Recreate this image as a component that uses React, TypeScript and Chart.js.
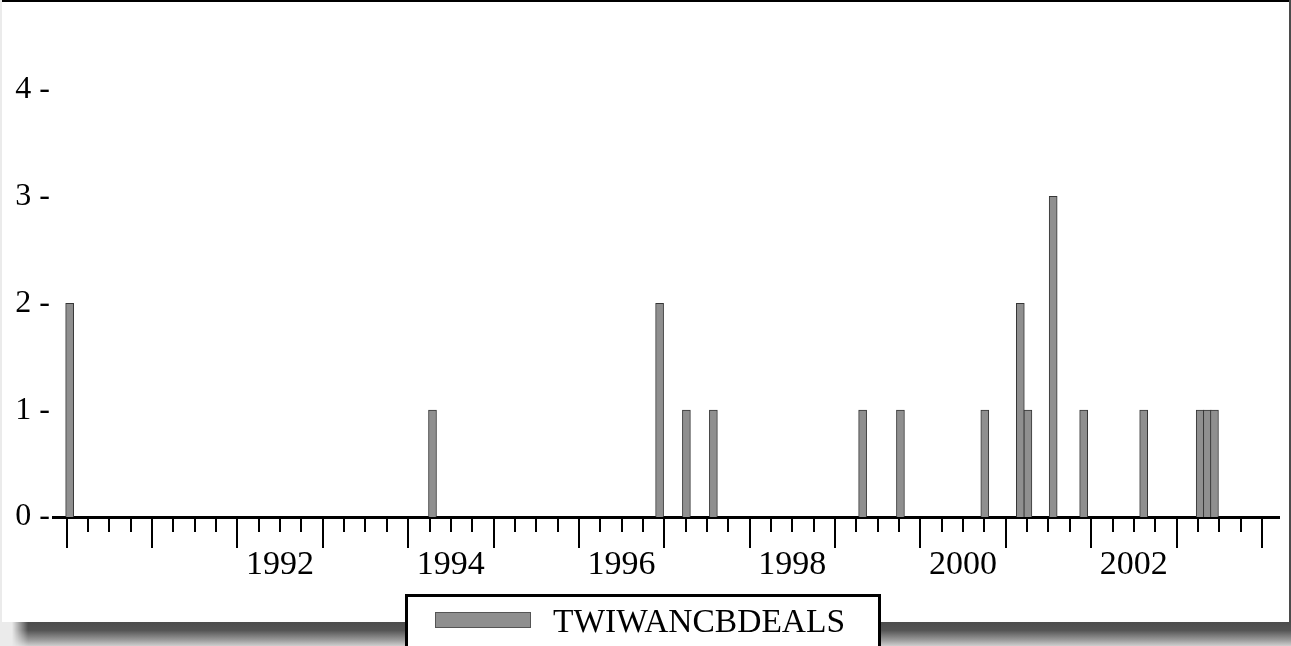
import React, { useEffect, useRef } from "react";
import { Chart, registerables } from "chart.js";

Chart.register(...registerables);

// ---- data ----
const seriesLabel = "TWIWANCBDEALS";
const dealDates = [
  1990.035, 1994.285, 1996.945, 1997.259, 1997.575, 1999.323, 1999.766,
  2000.754, 2001.17, 2001.259, 2001.555, 2001.912, 2002.615, 2003.277,
  2003.361, 2003.444,
];
const dealCounts = [2, 1, 2, 1, 1, 1, 1, 1, 2, 1, 3, 1, 1, 1, 1, 1];
const yTickValues = [0, 1, 2, 3, 4];
const yearLabels = [1992, 1994, 1996, 1998, 2000, 2002];
const axisStartYear = 1990;
const axisEndYear = 2004;

const SERIF = "'Liberation Serif', 'Times New Roman', serif";

const quarterTicks = {
  id: "quarterTicks",
  afterDraw(chart: any) {
    const xs = chart.scales.x;
    const ctx = chart.ctx;
    const y0 = chart.chartArea.bottom;
    ctx.save();
    ctx.strokeStyle = "#000";
    ctx.lineWidth = 2;
    for (let q = axisStartYear * 4; q <= axisEndYear * 4; q++) {
      const px = Math.round(xs.getPixelForValue(q / 4));
      const len = q % 4 === 0 ? 31 : 15;
      ctx.beginPath();
      ctx.moveTo(px, y0);
      ctx.lineTo(px, y0 + len);
      ctx.stroke();
    }
    ctx.restore();
  },
};

const boxedLegend = {
  id: "boxedLegend",
  afterDraw(chart: any) {
    const ctx = chart.ctx;
    const ds = chart.data.datasets[0];
    ctx.save();
    ctx.fillStyle = "#fff";
    ctx.fillRect(405, 594, 476, 60);
    ctx.strokeStyle = "#000";
    ctx.lineWidth = 3;
    ctx.strokeRect(406.5, 595.5, 473, 60);
    ctx.fillStyle = ds.backgroundColor;
    ctx.fillRect(435, 612, 96, 16);
    ctx.strokeStyle = "#555";
    ctx.lineWidth = 1;
    ctx.strokeRect(435.5, 612.5, 95, 15);
    ctx.fillStyle = "#000";
    ctx.font = `33.5px ${SERIF}`;
    ctx.textBaseline = "alphabetic";
    ctx.textAlign = "left";
    ctx.fillText(ds.label, 553, 632);
    ctx.restore();
  },
};

export default function App() {
  const canvasRef = useRef<HTMLCanvasElement | null>(null);

  useEffect(() => {
    if (!canvasRef.current) return;
    const chart = new Chart(canvasRef.current, {
      type: "bar",
      data: {
        datasets: [
          {
            label: seriesLabel,
            data: dealDates.map((d, i) => ({ x: d, y: dealCounts[i] })),
            backgroundColor: "#8f8f8f",
            borderColor: "#363636",
            borderWidth: 1,
            barThickness: 8,
          },
        ],
      },
      options: {
        responsive: false,
        animation: false,
        devicePixelRatio: 1,
        layout: { padding: { left: 0, right: 12, top: 4, bottom: 0 } },
        plugins: {
          legend: { display: false },
          tooltip: { enabled: false },
        },
        scales: {
          x: {
            type: "linear",
            min: 1989.84,
            max: 2004.2,
            offset: false,
            grid: { display: false, drawTicks: false, offset: false },
            border: { display: true, color: "#000", width: 3 },
            afterBuildTicks: (scale: any) => {
              scale.ticks = yearLabels.map((y) => ({ value: y + 0.5 }));
            },
            afterFit: (scale: any) => {
              scale.height = 129;
              scale.paddingLeft = 0;
              scale.paddingRight = 0;
            },
            ticks: {
              autoSkip: false,
              maxRotation: 0,
              padding: 28,
              color: "#000",
              font: { family: SERIF, size: 34 },
              callback: (v: any) => String(Math.floor(Number(v))),
            },
          },
          y: {
            type: "linear",
            min: 0,
            max: 4.8,
            grid: { display: false, drawTicks: false },
            border: { display: false },
            afterBuildTicks: (scale: any) => {
              scale.ticks = yTickValues.map((v) => ({ value: v }));
            },
            afterFit: (scale: any) => {
              scale.width = 53;
              scale.paddingTop = 0;
              scale.paddingBottom = 0;
            },
            ticks: {
              padding: 3,
              color: "#000",
              font: { family: SERIF, size: 32 },
              callback: (v: any) => `${v} -`,
            },
          },
        },
      },
      plugins: [quarterTicks, boxedLegend],
    });
    return () => chart.destroy();
  }, []);

  return (
    <div
      style={{
        position: "fixed",
        left: 0,
        top: 0,
        width: 1291,
        height: 646,
        background: "#ebebeb",
        overflow: "hidden",
      }}
    >
      <div
        style={{
          position: "absolute",
          left: 2,
          top: 0,
          width: 1287,
          height: 622,
          boxSizing: "border-box",
          background: "#fff",
          borderTop: "2px solid #000",
        }}
      />
      <div
        style={{
          position: "absolute",
          left: 1289,
          top: 0,
          width: 2,
          height: 646,
          background: "#4b4b4b",
        }}
      />
      <div
        style={{
          position: "absolute",
          left: 12,
          top: 622,
          width: 1279,
          height: 24,
          background:
            "linear-gradient(to bottom, #4c4c4c 0%, #555 35%, #9a9a9a 75%, #cfcfcf 100%)",
          WebkitMaskImage: "linear-gradient(to right, transparent 0px, #000 16px)",
          maskImage: "linear-gradient(to right, transparent 0px, #000 16px)",
        }}
      />
      <canvas
        ref={canvasRef}
        width={1291}
        height={646}
        style={{ position: "absolute", left: 0, top: 0, width: 1291, height: 646 }}
      />
    </div>
  );
}
